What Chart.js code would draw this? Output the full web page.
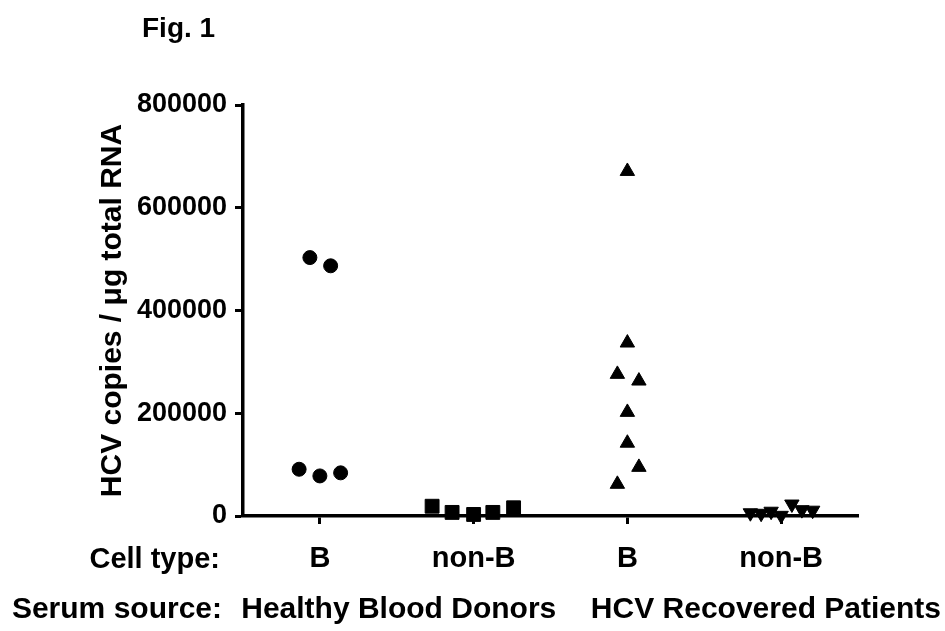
<!DOCTYPE html>
<html>
<head>
<meta charset="utf-8">
<script src="https://cdn.jsdelivr.net/npm/chart.js@4.4.1/dist/chart.umd.min.js"></script>
<style>
  html, body { margin: 0; padding: 0; background: #fff; }
  canvas { display: block; }
</style>
</head>
<body>
<canvas id="c" width="945" height="631"></canvas>
<script>
// ---- data ----
const figureTitle = 'Fig. 1';
const yAxisTitle = 'HCV copies / \u03BCg total RNA';
const cellTypeLabel = 'Cell type:';
const serumSourceLabel = 'Serum source:';
const cellTypes = ['B', 'non-B', 'B', 'non-B'];
const serumSources = ['Healthy Blood Donors', 'HCV Recovered Patients'];
const yTicks = [0, 200000, 400000, 600000, 800000];

// x values = category position (1..4) with the scatter jitter
const healthyB_x = [0.935, 1.07, 0.865, 1.0, 1.135];
const healthyB_y = [503000, 487000, 91000, 78000, 84000];

const healthyNonB_x = [1.73, 1.86, 2.0, 2.125, 2.26];
const healthyNonB_y = [19000, 7000, 3000, 7000, 16000];

const recoveredB_x = [3.0, 3.0, 2.935, 3.075, 3.0, 3.0, 3.075, 2.935];
const recoveredB_y = [671000, 337000, 276000, 263000, 202000, 142000, 95000, 62000];

const recoveredNonB_x = [3.8, 3.87, 3.935, 4.0, 4.07, 4.135, 4.205];
const recoveredNonB_y = [6000, 5000, 9000, 1000, 23000, 12000, 11000];

function pts(xs, ys) { return xs.map((x, i) => ({ x: x, y: ys[i] })); }

const FONT = '"Liberation Sans", Arial, Helvetica, sans-serif';

const extraText = {
  id: 'extraText',
  afterDraw(chart) {
    const ctx = chart.ctx;
    const xs = chart.scales.x;
    ctx.save();
    ctx.fillStyle = '#000';
    ctx.font = 'bold 28px ' + FONT;
    ctx.textBaseline = 'alphabetic';
    ctx.textAlign = 'left';
    ctx.fillText(figureTitle, 142, 37);

    ctx.font = 'bold 29px ' + FONT;
    ctx.textBaseline = 'middle';
    ctx.textAlign = 'right';
    ctx.fillText(cellTypeLabel, 220, 560);
    ctx.font = 'bold 30px ' + FONT;
    ctx.fillText(serumSourceLabel, 222, 610);

    ctx.textAlign = 'center';
    ctx.fillText(serumSources[0], xs.getPixelForValue(1.5) + 2, 610);
    ctx.textAlign = 'right';
    ctx.fillText(serumSources[1], 941, 610);
    ctx.restore();
  }
};

const common = { backgroundColor: '#000', borderColor: '#000', borderWidth: 1, clip: false };

new Chart(document.getElementById('c'), {
  type: 'scatter',
  data: {
    datasets: [
      Object.assign({ label: 'Healthy B', data: pts(healthyB_x, healthyB_y), pointStyle: 'circle', pointRadius: 7 }, common),
      Object.assign({ label: 'Healthy non-B', data: pts(healthyNonB_x, healthyNonB_y), pointStyle: 'rect', pointRadius: 9.8 }, common),
      Object.assign({ label: 'Recovered B', data: pts(recoveredB_x, recoveredB_y), pointStyle: 'triangle', pointRadius: 8.3 }, common),
      Object.assign({ label: 'Recovered non-B', data: pts(recoveredNonB_x, recoveredNonB_y), pointStyle: 'triangle', rotation: 180, pointRadius: 8.3 }, common)
    ]
  },
  options: {
    responsive: false,
    animation: false,
    events: [],
    layout: { padding: { top: 105, right: 87, bottom: 45, left: 0 } },
    plugins: { legend: { display: false }, tooltip: { enabled: false } },
    scales: {
      x: {
        type: 'linear',
        min: 0.5,
        max: 4.5,
        afterFit(scale) { scale.height = 70; },
        afterBuildTicks(scale) { scale.ticks = cellTypes.map((_, i) => ({ value: i + 1 })); },
        ticks: {
          color: '#000',
          font: { family: FONT, size: 29, weight: 'bold' },
          padding: 18,
          autoSkip: false,
          maxRotation: 0,
          callback: (v) => cellTypes[Math.round(v) - 1] || ''
        },
        grid: { display: true, drawOnChartArea: false, drawTicks: true, tickLength: 8, tickWidth: 3, tickColor: '#000' },
        border: { display: true, color: '#000', width: 3.5 }
      },
      y: {
        min: 0,
        max: 800000,
        afterFit(scale) { scale.width = 243; },
        afterBuildTicks(scale) { scale.ticks = yTicks.map(v => ({ value: v })); },
        ticks: {
          color: '#000',
          font: { family: FONT, size: 27, weight: 'bold' },
          padding: 8,
          callback: (v) => String(v)
        },
        grid: { display: true, drawOnChartArea: false, drawTicks: true, tickLength: 8, tickWidth: 3, tickColor: '#000' },
        border: { display: true, color: '#000', width: 3.5 },
        title: {
          display: true,
          text: yAxisTitle,
          color: '#000',
          font: { family: FONT, size: 30, weight: 'bold' },
          padding: { top: 95, bottom: 0 }
        }
      }
    }
  },
  plugins: [extraText]
});
</script>
</body>
</html>
